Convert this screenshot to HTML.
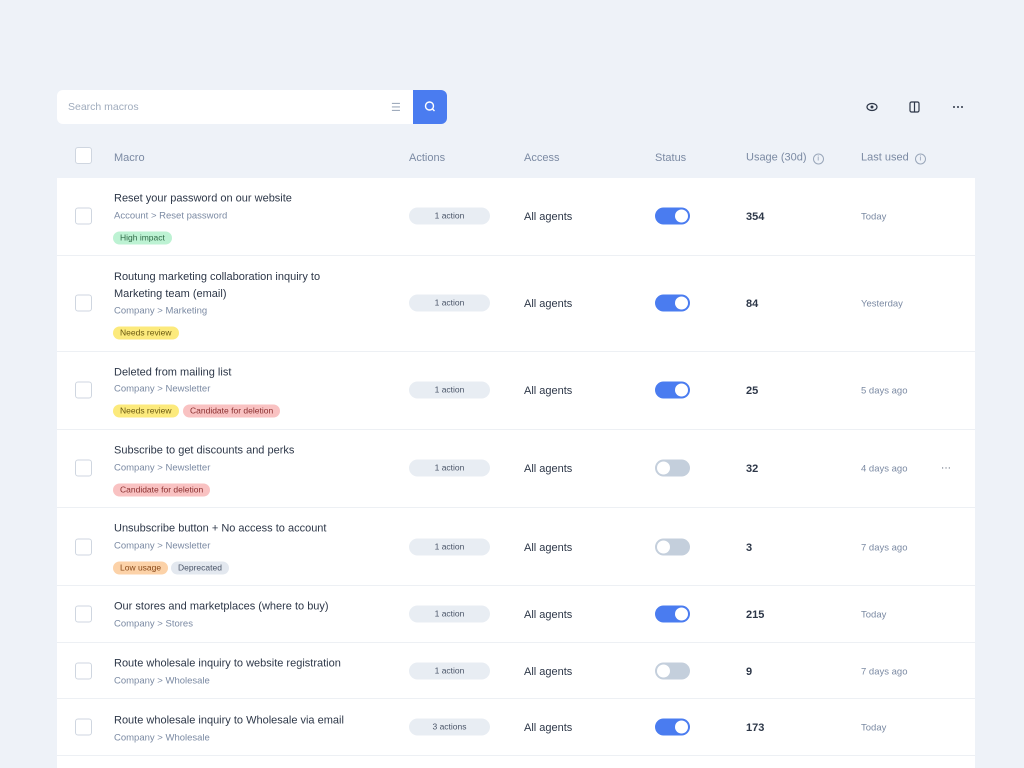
<!DOCTYPE html>
<html><head><meta charset="utf-8"><style>
*{box-sizing:border-box;margin:0;padding:0}
body{width:1024px;height:768px;background:#eef2f8;font-family:"Liberation Sans",sans-serif;position:relative;overflow:hidden;color:#2d3748}
.a{position:absolute;white-space:nowrap}
.c{transform:translateY(calc(-50% + 1px))}
.search{left:57px;top:90px;width:356px;height:34px;background:#fff;border-radius:6px 0 0 6px}
.sbtn{left:413px;top:90px;width:34px;height:34px;background:#4a7cf0;border-radius:0 6px 6px 0}
.th{top:157px;font-size:11px;color:#7b8aa3}
.table{left:57px;top:178px;width:918px;height:590px;background:#fff}
.line{left:57px;width:918px;height:1px;background:#edf0f4}
.cb{left:75px;width:17px;height:17px;border:1px solid #cfd6e0;border-radius:3px;background:#fff}
.cb.c{transform:translateY(-50%)}
.t{left:114px;font-size:11px;color:#2d3748;line-height:17px}
.bc{left:114px;font-size:9.5px;color:#7b8aa3}
.tag{font-size:8.5px;padding:0 7px;height:13px;line-height:13px;border-radius:7px}
.g{background:#bdf2d3;color:#2f6b47}.y{background:#fcea7c;color:#6b5a12}.r{background:#f9c2c2;color:#8a2f2f}.o{background:#fcd2a8;color:#8a4a1a}.d{background:#e3e8ef;color:#4a5568}
.pill{left:409px;width:81px;height:17px;border-radius:9px;background:#e8edf3;font-size:8.5px;color:#4a5568;text-align:center;line-height:17px}
.pill.c,.tg.c{transform:translateY(-50%)}
.acc{left:524px;font-size:11px;color:#2d3748}
.tg{left:655px;width:35px;height:17px;border-radius:9px;background:#4a7cf0}
.tg::after{content:"";position:absolute;right:2px;top:2px;width:13px;height:13px;border-radius:50%;background:#fff}
.tg.off{background:#c4cfdc}.tg.off::after{right:auto;left:2px}
.num{left:746px;font-size:11px;font-weight:bold;color:#2d3748}
.lu{left:861px;font-size:9.5px;color:#7b8aa3}
</style></head><body>
<div class="a search"></div>
<div class="a" style="left:68px;top:101px;font-size:10.5px;color:#a0acbd">Search macros</div>
<div class="a" style="left:391px;top:101px;font-size:11px;color:#a0acbd">☰</div>
<div class="a sbtn"><svg width="34" height="34"><circle cx="16.5" cy="16" r="4" fill="none" stroke="#fff" stroke-width="1.4"/><line x1="19.5" y1="19" x2="21.5" y2="21" stroke="#fff" stroke-width="1.4"/></svg></div>
<svg class="a" style="left:864px;top:100px" width="110" height="14"><ellipse cx="8" cy="7" rx="5" ry="3.5" fill="none" stroke="#2d3748" stroke-width="1.2"/><circle cx="8" cy="7" r="1.5" fill="#2d3748"/><rect x="46" y="2" width="9" height="10" rx="1.5" fill="none" stroke="#2d3748" stroke-width="1.2"/><line x1="50.5" y1="2" x2="50.5" y2="12" stroke="#2d3748" stroke-width="1.2"/><circle cx="90" cy="7" r="1" fill="#2d3748"/><circle cx="94" cy="7" r="1" fill="#2d3748"/><circle cx="98" cy="7" r="1" fill="#2d3748"/></svg>
<div class="a cb" style="top:147px"></div>
<div class="a th c" style="left:114px">Macro</div>
<div class="a th c" style="left:409px">Actions</div>
<div class="a th c" style="left:524px">Access</div>
<div class="a th c" style="left:655px">Status</div>
<div class="a th c" style="left:746px">Usage (30d) <span style="display:inline-block;width:11px;height:11px;border:1px solid #9aa7ba;border-radius:50%;font-size:7px;text-align:center;line-height:9px;margin-left:3px">i</span></div>
<div class="a th c" style="left:861px">Last used <span style="display:inline-block;width:11px;height:11px;border:1px solid #9aa7ba;border-radius:50%;font-size:7px;text-align:center;line-height:9px;margin-left:3px">i</span></div>
<div class="a table"></div>
<div class="a line" style="top:255px"></div><div class="a line" style="top:351px"></div><div class="a line" style="top:429px"></div><div class="a line" style="top:507px"></div><div class="a line" style="top:585px"></div><div class="a line" style="top:642px"></div><div class="a line" style="top:698px"></div><div class="a line" style="top:755px"></div>

<div class="a cb c" style="top:216px"></div>
<div class="a t c" style="top:198px">Reset your password on our website</div>
<div class="a bc c" style="top:215px">Account &gt; Reset password</div>
<div class="a tag g c" style="left:113px;top:237px">High impact</div>
<div class="a pill c" style="top:216px">1 action</div><div class="a acc c" style="top:216px">All agents</div><div class="a tg c" style="top:216px"></div><div class="a num c" style="top:216px">354</div><div class="a lu c" style="top:216px">Today</div>

<div class="a cb c" style="top:303px"></div>
<div class="a t c" style="top:285px">Routung marketing collaboration inquiry to<br>Marketing team (email)</div>
<div class="a bc c" style="top:310px">Company &gt; Marketing</div>
<div class="a tag y c" style="left:113px;top:332px">Needs review</div>
<div class="a pill c" style="top:303px">1 action</div><div class="a acc c" style="top:303px">All agents</div><div class="a tg c" style="top:303px"></div><div class="a num c" style="top:303px">84</div><div class="a lu c" style="top:303px">Yesterday</div>

<div class="a cb c" style="top:390px"></div>
<div class="a t c" style="top:372px">Deleted from mailing list</div>
<div class="a bc c" style="top:388px">Company &gt; Newsletter</div>
<div class="a tag y c" style="left:113px;top:410px">Needs review</div><div class="a tag r c" style="left:183px;top:410px">Candidate for deletion</div>
<div class="a pill c" style="top:390px">1 action</div><div class="a acc c" style="top:390px">All agents</div><div class="a tg c" style="top:390px"></div><div class="a num c" style="top:390px">25</div><div class="a lu c" style="top:390px">5 days ago</div>

<div class="a cb c" style="top:468px"></div>
<div class="a t c" style="top:450px">Subscribe to get discounts and perks</div>
<div class="a bc c" style="top:467px">Company &gt; Newsletter</div>
<div class="a tag r c" style="left:113px;top:489px">Candidate for deletion</div>
<div class="a pill c" style="top:468px">1 action</div><div class="a acc c" style="top:468px">All agents</div><div class="a tg off c" style="top:468px"></div><div class="a num c" style="top:468px">32</div><div class="a lu c" style="top:468px">4 days ago</div>
<div class="a c" style="left:941px;top:467px;font-size:10px;color:#4a5568">···</div>

<div class="a cb c" style="top:547px"></div>
<div class="a t c" style="top:528px">Unsubscribe button + No access to account</div>
<div class="a bc c" style="top:545px">Company &gt; Newsletter</div>
<div class="a tag o c" style="left:113px;top:567px">Low usage</div><div class="a tag d c" style="left:171px;top:567px">Deprecated</div>
<div class="a pill c" style="top:547px">1 action</div><div class="a acc c" style="top:547px">All agents</div><div class="a tg off c" style="top:547px"></div><div class="a num c" style="top:547px">3</div><div class="a lu c" style="top:547px">7 days ago</div>

<div class="a cb c" style="top:614px"></div>
<div class="a t c" style="top:606px">Our stores and marketplaces (where to buy)</div>
<div class="a bc c" style="top:623px">Company &gt; Stores</div>
<div class="a pill c" style="top:614px">1 action</div><div class="a acc c" style="top:614px">All agents</div><div class="a tg c" style="top:614px"></div><div class="a num c" style="top:614px">215</div><div class="a lu c" style="top:614px">Today</div>

<div class="a cb c" style="top:671px"></div>
<div class="a t c" style="top:663px">Route wholesale inquiry to website registration</div>
<div class="a bc c" style="top:680px">Company &gt; Wholesale</div>
<div class="a pill c" style="top:671px">1 action</div><div class="a acc c" style="top:671px">All agents</div><div class="a tg off c" style="top:671px"></div><div class="a num c" style="top:671px">9</div><div class="a lu c" style="top:671px">7 days ago</div>

<div class="a cb c" style="top:727px"></div>
<div class="a t c" style="top:720px">Route wholesale inquiry to Wholesale via email</div>
<div class="a bc c" style="top:737px">Company &gt; Wholesale</div>
<div class="a pill c" style="top:727px">3 actions</div><div class="a acc c" style="top:727px">All agents</div><div class="a tg c" style="top:727px"></div><div class="a num c" style="top:727px">173</div><div class="a lu c" style="top:727px">Today</div>
</body></html>
